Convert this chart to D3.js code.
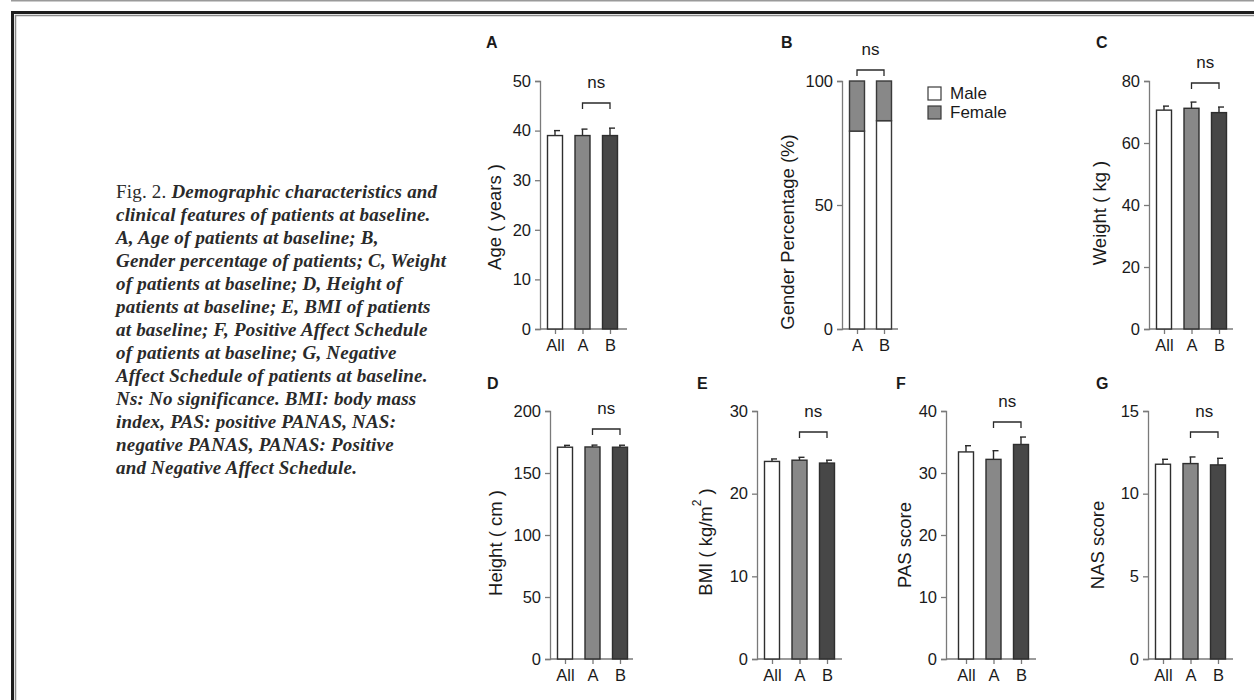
<!DOCTYPE html>
<html><head><meta charset="utf-8">
<script src="https://cdn.jsdelivr.net/npm/d3@7"></script>
<style>body{margin:0;background:#fff}svg{display:block}</style>
</head><body>
<svg id="chart" width="1254" height="700"></svg>
<script>
// ---------- data ----------
const groups = ["All", "A", "B"];
const ageMean = [39.0, 39.0, 39.0];
const ageErr = [1.0, 1.3, 1.5];
const ageTicks = [0, 10, 20, 30, 40, 50];
const genderGroups = ["A", "B"];
const malePct = [79.8, 84.0];
const femalePct = [20.2, 16.0];
const genderTicks = [0, 50, 100];
const genderLegend = ["Male", "Female"];
const weightMean = [70.6, 71.2, 69.8];
const weightErr = [1.3, 2.0, 1.8];
const weightTicks = [0, 20, 40, 60, 80];
const heightMean = [170.8, 171.0, 170.8];
const heightErr = [1.5, 1.5, 1.6];
const heightTicks = [0, 50, 100, 150, 200];
const bmiMean = [23.9, 24.05, 23.7];
const bmiErr = [0.3, 0.35, 0.35];
const bmiTicks = [0, 10, 20, 30];
const pasMean = [33.4, 32.2, 34.6];
const pasErr = [1.0, 1.4, 1.2];
const pasTicks = [0, 10, 20, 30, 40];
const nasMean = [11.78, 11.82, 11.74];
const nasErr = [0.3, 0.4, 0.4];
const nasTicks = [0, 5, 10, 15];
const captionLines = [
  "Demographic characteristics and",
  "clinical features of patients at baseline.",
  "A, Age of patients at baseline; B,",
  "Gender percentage of patients; C, Weight",
  "of patients at baseline; D, Height of",
  "patients at baseline; E, BMI of patients",
  "at baseline; F, Positive Affect Schedule",
  "of patients at baseline; G, Negative",
  "Affect Schedule of patients at baseline.",
  "Ns: No significance. BMI: body mass",
  "index, PAS: positive PANAS, NAS:",
  "negative PANAS, PANAS: Positive",
  "and Negative Affect Schedule."
];

// ---------- styles ----------
const barFill = ["#ffffff", "#888888", "#474747"];
const axisColor = "#7a7a7a";
const inkColor = "#1a1a1a";
const sansFont = "'Liberation Sans', Arial, Helvetica, sans-serif";

const svg = d3.select("#chart");

// frame
svg.append("line").attr("x1", 11).attr("x2", 1254).attr("y1", 0.75).attr("y2", 0.75)
  .attr("stroke", "#9a9a9a").attr("stroke-width", 1.5);
svg.append("path").attr("d", "M12.5,700 V12.5 H1254").attr("fill", "none")
  .attr("stroke", "#1e1e1e").attr("stroke-width", 3);
svg.append("path").attr("d", "M15.5,700 V15.5 H1254").attr("fill", "none")
  .attr("stroke", "#8a8a8a").attr("stroke-width", 1.5);

// caption
const cap = svg.append("text").attr("x", 116).attr("y", 198)
  .attr("font-family", "'Liberation Serif', 'Times New Roman', serif")
  .attr("font-size", 19).attr("font-weight", 600).attr("letter-spacing", 0.2).attr("fill", "#2a2a2a");
captionLines.forEach((line, i) => {
  const t = cap.append("tspan").attr("x", 116).attr("dy", i === 0 ? 0 : 23);
  if (i === 0) {
    t.append("tspan").attr("font-style", "normal").attr("font-weight", 400).text("Fig. 2. ");
    t.append("tspan").attr("font-style", "italic").text(line);
  } else {
    t.attr("font-style", "italic").text(line);
  }
});

function panel(cfg) {
  const g = svg.append("g").attr("font-family", sansFont);
  const y = d3.scaleLinear().domain([cfg.ticks[0], cfg.ticks[cfg.ticks.length - 1]])
    .range([cfg.bottom, cfg.top]);
  const x = d3.scalePoint().domain(cfg.cats)
    .range([cfg.axisX + cfg.first, cfg.axisX + cfg.first + cfg.step * (cfg.cats.length - 1)]);
  const bw = 15;

  // letter
  g.append("text").attr("x", cfg.letterX).attr("y", cfg.letterY)
    .attr("font-weight", "bold").attr("font-size", 16).attr("fill", inkColor).text(cfg.letter);

  // y axis
  const ya = g.append("g").attr("transform", `translate(${cfg.axisX},0)`)
    .call(d3.axisLeft(y).tickValues(cfg.ticks).tickSize(5).tickPadding(4).tickFormat(d3.format("d")));
  ya.select(".domain").attr("stroke", axisColor).attr("stroke-width", 1.3);
  ya.selectAll(".tick line").attr("stroke", axisColor).attr("stroke-width", 1.3);
  ya.selectAll(".tick text").attr("font-size", 16.5).attr("fill", inkColor).attr("font-family", sansFont);

  // x axis
  const xa = g.append("g").attr("transform", `translate(0,${cfg.bottom})`)
    .call(d3.axisBottom(x).tickSize(5).tickPadding(5).tickSizeOuter(0));
  xa.select(".domain").attr("d", `M${cfg.axisX},0H${cfg.xEnd}`)
    .attr("stroke", axisColor).attr("stroke-width", 1.3);
  xa.selectAll(".tick line").attr("stroke", axisColor).attr("stroke-width", 1.3);
  xa.selectAll(".tick text").attr("font-size", 16.5).attr("fill", inkColor).attr("font-family", sansFont);

  // y title
  const yt = g.append("text")
    .attr("transform", `translate(${cfg.titleX},${cfg.titleY}) rotate(-90)`)
    .attr("text-anchor", "middle").attr("dominant-baseline", "central")
    .attr("font-size", 18.5).attr("fill", inkColor);
  if (cfg.sup) {
    yt.append("tspan").text(cfg.title);
    yt.append("tspan").attr("font-size", 12).attr("dy", -8).text(cfg.sup);
    yt.append("tspan").attr("dy", 8).text(cfg.titleEnd);
  } else {
    yt.text(cfg.title);
  }

  if (cfg.stacked) {
    cfg.cats.forEach((c, i) => {
      const m = cfg.male[i];
      g.append("rect").attr("x", x(c) - bw / 2).attr("y", y(m)).attr("width", bw)
        .attr("height", y(0) - y(m)).attr("fill", "#fff").attr("stroke", "#3a3a3a").attr("stroke-width", 1.4);
      g.append("rect").attr("x", x(c) - bw / 2).attr("y", y(m + cfg.female[i])).attr("width", bw)
        .attr("height", y(m) - y(m + cfg.female[i])).attr("fill", "#888").attr("stroke", "#3a3a3a").attr("stroke-width", 1.4);
    });
    // legend
    cfg.legend.forEach((name, i) => {
      g.append("rect").attr("x", cfg.legX).attr("y", cfg.legY + i * 19).attr("width", 13).attr("height", 13)
        .attr("fill", i === 0 ? "#fff" : "#888").attr("stroke", "#3a3a3a").attr("stroke-width", 1.2);
      g.append("text").attr("x", cfg.legX + 22).attr("y", cfg.legY + i * 19 + 6.5)
        .attr("dominant-baseline", "central").attr("font-size", 17).attr("fill", inkColor).text(name);
    });
  } else {
    cfg.cats.forEach((c, i) => {
      const m = cfg.mean[i], e = cfg.err[i];
      g.append("line").attr("x1", x(c)).attr("x2", x(c)).attr("y1", y(m)).attr("y2", y(m + e))
        .attr("stroke", "#2a2a2a").attr("stroke-width", 1.4);
      g.append("line").attr("x1", x(c) - 1).attr("x2", x(c) + 5).attr("y1", y(m + e)).attr("y2", y(m + e))
        .attr("stroke", "#2a2a2a").attr("stroke-width", 1.4);
      g.append("rect").attr("x", x(c) - bw / 2).attr("y", y(m)).attr("width", bw)
        .attr("height", y(0) - y(m)).attr("fill", barFill[i]).attr("stroke", "#2e2e2e").attr("stroke-width", 1.4);
    });
  }

  // ns bracket
  const a = x(cfg.cats[cfg.cats.length - 2]), b = x(cfg.cats[cfg.cats.length - 1]);
  g.append("path").attr("d", `M${a},${cfg.brY + 6}V${cfg.brY}H${b}V${cfg.brY + 6}`)
    .attr("fill", "none").attr("stroke", "#2a2a2a").attr("stroke-width", 1.3);
  g.append("text").attr("x", (a + b) / 2).attr("y", cfg.brY - 21)
    .attr("text-anchor", "middle").attr("dominant-baseline", "central")
    .attr("font-size", 17).attr("fill", inkColor).text("ns");
}

panel({letter: "A", letterX: 486, letterY: 48, cats: groups, mean: ageMean, err: ageErr, ticks: ageTicks,
  axisX: 540, top: 81, bottom: 329, first: 15, step: 27.5, xEnd: 627,
  title: "Age ( years )", titleX: 494, titleY: 217, brY: 103});
panel({letter: "B", letterX: 781, letterY: 48, cats: genderGroups, stacked: true, male: malePct, female: femalePct,
  ticks: genderTicks, axisX: 842, top: 81, bottom: 329, first: 15, step: 27, xEnd: 898,
  title: "Gender Percentage (%)", titleX: 787, titleY: 232, brY: 70, legend: genderLegend, legX: 928, legY: 87});
panel({letter: "C", letterX: 1096, letterY: 48, cats: groups, mean: weightMean, err: weightErr, ticks: weightTicks,
  axisX: 1149, top: 81, bottom: 329, first: 15, step: 27.5, xEnd: 1233,
  title: "Weight ( kg )", titleX: 1099, titleY: 213, brY: 83});
panel({letter: "D", letterX: 487, letterY: 389, cats: groups, mean: heightMean, err: heightErr, ticks: heightTicks,
  axisX: 550, top: 411, bottom: 659, first: 15, step: 27.5, xEnd: 633,
  title: "Height ( cm )", titleX: 495, titleY: 543, brY: 429});
panel({letter: "E", letterX: 697, letterY: 389, cats: groups, mean: bmiMean, err: bmiErr, ticks: bmiTicks,
  axisX: 757, top: 411, bottom: 659, first: 15, step: 27.5, xEnd: 842,
  title: "BMI ( kg/m", sup: "2", titleEnd: " )", titleX: 705, titleY: 542, brY: 432});
panel({letter: "F", letterX: 896, letterY: 389, cats: groups, mean: pasMean, err: pasErr, ticks: pasTicks,
  axisX: 946, top: 411, bottom: 659, first: 20, step: 27.5, xEnd: 1036,
  title: "PAS score", titleX: 904, titleY: 545, brY: 422});
panel({letter: "G", letterX: 1096, letterY: 389, cats: groups, mean: nasMean, err: nasErr, ticks: nasTicks,
  axisX: 1148, top: 411, bottom: 659, first: 15, step: 27.5, xEnd: 1233,
  title: "NAS score", titleX: 1097, titleY: 545, brY: 432});
</script>
</body></html>
